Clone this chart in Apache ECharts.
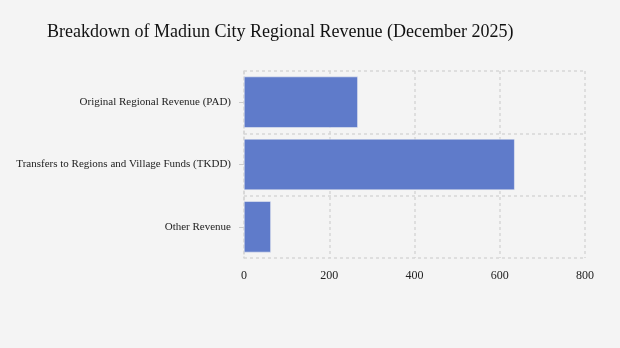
<!DOCTYPE html>
<html><head><meta charset="utf-8">
<script src="https://cdn.jsdelivr.net/npm/echarts@6/dist/echarts.min.js"></script>
<style>html,body{margin:0;padding:0;background:#f4f4f4;}#c{width:620px;height:348px;}</style>
</head><body><div id="c"></div>
<script>
const categories = ["Original Regional Revenue (PAD)", "Transfers to Regions and Village Funds (TKDD)", "Other Revenue"];
const values = [267, 635, 63];
const xTicks = [0, 200, 400, 600, 800];

const chart = echarts.init(document.getElementById('c'), null, {renderer: 'canvas'});
const font = '"Liberation Serif", "Times New Roman", serif';
chart.setOption({
  backgroundColor: '#f4f4f4',
  animation: false,
  title: {
    text: 'Breakdown of Madiun City Regional Revenue (December 2025)',
    left: 42, top: 18,
    textStyle: {fontFamily: font, fontSize: 18, fontWeight: 'normal', color: '#111'}
  },
  grid: {left: 244, right: 35, top: 71, bottom: 90, containLabel: false},
  xAxis: {
    type: 'value', min: xTicks[0], max: xTicks[xTicks.length-1], interval: 200,
    axisLine: {show: false}, axisTick: {show: false},
    axisLabel: {fontFamily: font, fontSize: 12, color: '#222', margin: 12},
    splitLine: {show: true, lineStyle: {type: [3, 3], color: '#d6d6d6', width: 1.5}}
  },
  yAxis: {
    type: 'category', data: categories, inverse: true,
    axisLine: {show: true, lineStyle: {type: [3, 3], color: '#d6d6d6', width: 1.5}},
    axisTick: {show: true, alignWithLabel: true, length: 5, lineStyle: {color: '#ccc'}},
    axisLabel: {fontFamily: font, fontSize: 11, color: '#222', margin: 13},
    splitLine: {show: true, lineStyle: {type: [3, 3], color: '#d6d6d6', width: 1.5}}
  },
  series: [{
    type: 'bar', data: values, barCategoryGap: '18%',
    itemStyle: {color: '#5f7bca', borderColor: '#f4f4f4', borderWidth: 0.5}
  }]
});
</script></body></html>
